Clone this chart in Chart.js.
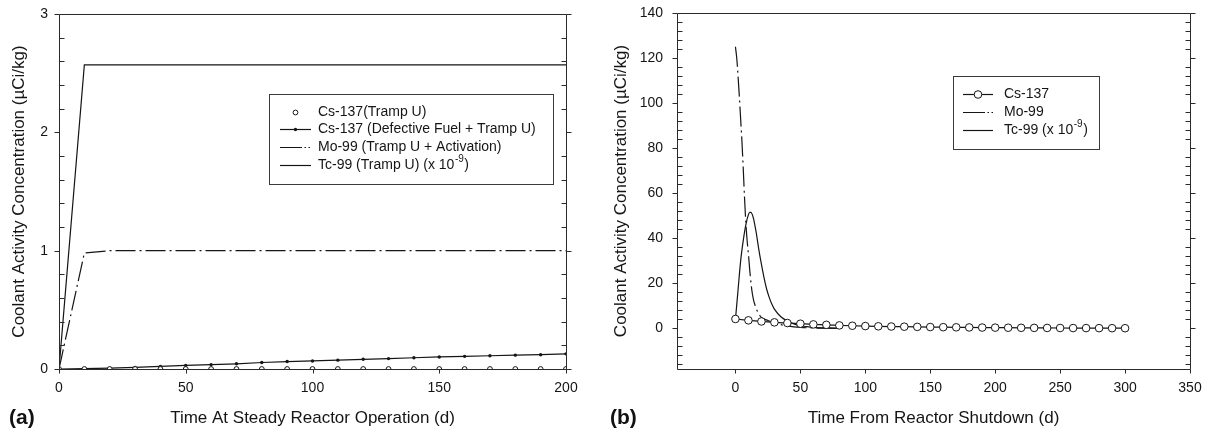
<!DOCTYPE html>
<html>
<head>
<meta charset="utf-8">
<script src="https://cdn.jsdelivr.net/npm/chart.js@4/dist/chart.umd.min.js"></script>
<style>
  html, body { margin: 0; padding: 0; background: #fff; }
  #wrap { position: relative; width: 1212px; height: 432px; overflow: hidden; }
  canvas { position: absolute; top: 0; }
  #chartA { left: 0; }
  #chartB { left: 606px; }
  .panel { position: absolute; font: bold 21px 'Liberation Sans', Arial, sans-serif; line-height: 21px; color: #111; }
</style>
</head>
<body>
<div id="wrap">
  <canvas id="chartA" width="606" height="432"></canvas>
  <canvas id="chartB" width="606" height="432"></canvas>
  <div class="panel" style="left:9px; top:406px;">(a)</div>
  <div class="panel" style="left:610px; top:406px;">(b)</div>
</div>
<script>
const FONT = "'Liberation Sans', Arial, Helvetica, sans-serif";
const INK = '#151515';

// ---- Panel (a): activity during steady reactor operation ----
const daysA = [0, 10, 20, 30, 40, 50, 60, 70, 80, 90, 100, 110, 120, 130, 140, 150, 160, 170, 180, 190, 200];
const cs137TrampA = [0, 0, 0, 0, 0, 0, 0, 0, 0, 0, 0, 0, 0, 0, 0, 0, 0, 0, 0, 0, 0];
const cs137DefectA = [0, 0.003, 0.007, 0.014, 0.022, 0.030, 0.037, 0.044, 0.055, 0.063, 0.068, 0.075, 0.082, 0.088, 0.095, 0.102, 0.107, 0.112, 0.117, 0.121, 0.128];
const mo99A = [0, 0.98, 1, 1, 1, 1, 1, 1, 1, 1, 1, 1, 1, 1, 1, 1, 1, 1, 1, 1, 1];
const tc99A = [0, 2.57, 2.57, 2.57, 2.57, 2.57, 2.57, 2.57, 2.57, 2.57, 2.57, 2.57, 2.57, 2.57, 2.57, 2.57, 2.57, 2.57, 2.57, 2.57, 2.57];
const xTicksA = [0, 50, 100, 150, 200];
const labelsA = ['Cs-137(Tramp U)', 'Cs-137 (Defective Fuel + Tramp U)', 'Mo-99 (Tramp U + Activation)', 'Tc-99 (Tramp U) (x 10^-9)'];

// ---- Panel (b): activity after reactor shutdown ----
const daysCsB = [0, 10, 20, 30, 40, 50, 60, 70, 80, 90, 100, 110, 120, 130, 140, 150, 160, 170, 180, 190, 200, 210, 220, 230, 240, 250, 260, 270, 280, 290, 300];
const cs137B = [4.2, 3.6, 3.1, 2.7, 2.4, 2.1, 1.8, 1.6, 1.35, 1.2, 1.05, 0.95, 0.85, 0.78, 0.7, 0.62, 0.56, 0.5, 0.45, 0.4, 0.36, 0.32, 0.28, 0.25, 0.22, 0.2, 0.17, 0.15, 0.13, 0.11, 0.1];
const daysMoB = [0, 1, 2, 3, 4, 5, 6, 7, 8, 9, 10, 11, 12, 13, 14, 15, 16, 18, 20, 25, 30, 35, 40, 45, 50, 60, 70, 80];
const mo99B = [125, 120, 112, 103, 93, 83, 71, 58, 47, 39, 33, 26, 20, 15.5, 12.5, 10.5, 8.8, 6.5, 4.9, 3.5, 2.5, 1.7, 1.1, 0.7, 0.45, 0.2, 0.1, 0.05];
const daysTcB = [0, 2, 4, 6, 8, 10, 11, 12, 13, 14, 16, 18, 20, 22, 24, 26, 28, 30, 35, 40, 45, 50, 55, 60, 70, 80];
const tc99B = [4, 17, 30, 39, 46, 50.5, 51.5, 51.5, 50.5, 48.5, 42.5, 35, 28.5, 22.5, 17.5, 13.8, 10.8, 8.6, 5.2, 3.3, 2.0, 1.2, 0.8, 0.5, 0.25, 0.15];
const xTicksB = [0, 50, 100, 150, 200, 250, 300, 350];
const labelsB = ['Cs-137', 'Mo-99', 'Tc-99 (x 10^-9)'];

const pts = (xs, ys) => xs.map((x, i) => ({ x, y: ys[i] }));
const MO_DASH = [20, 4, 2, 4];
const MO_KEY_DASH = [22, 2.5, 1.5, 2.5, 1.5, 20];

// Frame around the plot area with outward major ticks and inward minor ticks
const axisFrame = {
  id: 'axisFrame',
  afterDraw(chart, args, o) {
    const { ctx, chartArea: a } = chart;
    const xs = chart.scales.x, ys = chart.scales.y;
    const L = Math.round(a.left) + 0.5, R = Math.round(a.right) + 0.5;
    const T = Math.round(a.top) + 0.5, B = Math.round(a.bottom) + 0.5;
    ctx.save();
    ctx.strokeStyle = o.color;
    ctx.lineWidth = 1;
    ctx.beginPath();
    ctx.rect(L, T, R - L, B - T);
    const isMajor = v => Math.abs(v / o.yMajor - Math.round(v / o.yMajor)) < 1e-6;
    for (let k = Math.ceil(ys.min / o.yMinor - 1e-6); k * o.yMinor <= ys.max + 1e-6; k++) {
      const v = k * o.yMinor;
      const p = Math.round(ys.getPixelForValue(v)) + 0.5;
      if (isMajor(v)) {
        ctx.moveTo(L - o.tick, p); ctx.lineTo(L, p);
        ctx.moveTo(R, p); ctx.lineTo(R + o.tick, p);
      } else {
        ctx.moveTo(L, p); ctx.lineTo(L + o.tick, p);
        ctx.moveTo(R, p); ctx.lineTo(R - o.tick, p);
      }
    }
    xs.ticks.forEach(t => {
      const p = Math.round(xs.getPixelForValue(t.value)) + 0.5;
      ctx.moveTo(p, B); ctx.lineTo(p, B + o.tick - 1);
    });
    ctx.stroke();
    ctx.restore();
  }
};

// Boxed legend inside the plot area; "^" in a label marks a superscript
const boxLegend = {
  id: 'boxLegend',
  afterDraw(chart, args, o) {
    const ctx = chart.ctx;
    const [x1, y1, x2, y2] = o.box;
    ctx.save();
    ctx.fillStyle = '#fff';
    ctx.fillRect(x1, y1, x2 - x1, y2 - y1);
    ctx.strokeStyle = o.frameColor;
    ctx.lineWidth = 1;
    ctx.strokeRect(x1 + 0.5, y1 + 0.5, x2 - x1, y2 - y1);
    chart.data.datasets.forEach((ds, i) => {
      const y = o.rows[i];
      if (ds.showLine !== false) {
        ctx.beginPath();
        ctx.setLineDash(ds.borderDash ? (o.keyDash || ds.borderDash) : []);
        ctx.strokeStyle = ds.borderColor;
        ctx.lineWidth = ds.borderWidth;
        ctx.moveTo(o.sym[0], y + 0.5);
        ctx.lineTo(o.sym[1], y + 0.5);
        ctx.stroke();
        ctx.setLineDash([]);
      }
      if (ds.pointRadius > 0) {
        ctx.beginPath();
        ctx.arc((o.sym[0] + o.sym[1]) / 2, y + 0.5, ds.pointRadius, 0, Math.PI * 2);
        ctx.fillStyle = ds.pointBackgroundColor;
        ctx.fill();
        if (ds.pointBorderWidth > 0) {
          ctx.strokeStyle = ds.pointBorderColor;
          ctx.lineWidth = ds.pointBorderWidth;
          ctx.stroke();
        }
      }
      ctx.fillStyle = o.color;
      ctx.textAlign = 'left';
      ctx.textBaseline = 'middle';
      ctx.font = `${o.size}px ${FONT}`;
      const m = ds.label.match(/^(.*)\^(-?\d+)(.*)$/);
      if (m) {
        let x = o.textX;
        ctx.fillText(m[1], x, y); x += ctx.measureText(m[1]).width;
        ctx.font = `${Math.round(o.size * 0.7)}px ${FONT}`;
        ctx.fillText(m[2], x + 0.5, y - o.size * 0.38); x += ctx.measureText(m[2]).width + 1;
        ctx.font = `${o.size}px ${FONT}`;
        ctx.fillText(m[3], x, y);
      } else {
        ctx.fillText(ds.label, o.textX, y);
      }
    });
    ctx.restore();
  }
};

// Invisible tick marks keep the label gap without adding to the layout padding
const gapGrid = len => ({ display: true, drawOnChartArea: false, drawTicks: true, tickLength: len, color: 'rgba(0,0,0,0)' });

function axisOptions(cfg) {
  return {
    x: {
      type: 'linear', min: cfg.xMin, max: cfg.xMax,
      afterBuildTicks: s => { s.ticks = cfg.xTicks.map(v => ({ value: v })); },
      afterFit: s => { s.height = 63; },
      grid: gapGrid(11),
      border: { display: false },
      ticks: { font: { family: FONT, size: 14 }, color: INK, padding: 0, maxRotation: 0, autoSkip: false, includeBounds: false },
      title: { display: true, text: cfg.xTitle, font: { family: FONT, size: 17 }, color: INK, padding: { top: 0, bottom: 3 } }
    },
    y: {
      type: 'linear', min: cfg.yMin, max: cfg.yMax,
      afterFit: s => { s.width = cfg.yWidth; },
      grid: gapGrid(cfg.yGap),
      border: { display: false },
      ticks: { stepSize: cfg.yStep, font: { family: FONT, size: 14 }, color: INK, padding: 0, includeBounds: false },
      title: { display: true, text: 'Coolant Activity Concentration (\u00B5Ci/kg)', font: { family: FONT, size: 17 }, color: INK, padding: { top: cfg.yTitlePad, bottom: 0 } }
    }
  };
}

const common = {
  responsive: false,
  animation: false,
  devicePixelRatio: 1,
  events: [],
};

new Chart(document.getElementById('chartA'), {
  type: 'line',
  data: {
    datasets: [
      { label: labelsA[0], data: pts(daysA, cs137TrampA), showLine: false, borderColor: INK, borderWidth: 1,
        pointRadius: 2.4, pointBackgroundColor: '#fff', pointBorderColor: INK, pointBorderWidth: 1 },
      { label: labelsA[1], data: pts(daysA, cs137DefectA), borderColor: INK, borderWidth: 1.2,
        pointRadius: 1.7, pointBackgroundColor: INK, pointBorderColor: INK, pointBorderWidth: 0 },
      { label: labelsA[2], data: pts(daysA, mo99A), borderColor: INK, borderWidth: 1.2, borderDash: MO_DASH, pointRadius: 0 },
      { label: labelsA[3], data: pts(daysA, tc99A), borderColor: INK, borderWidth: 1.2, pointRadius: 0 }
    ]
  },
  options: Object.assign({}, common, {
    layout: { padding: { left: 0, top: 14, right: 40, bottom: 0 } },
    scales: axisOptions({ xMin: 0, xMax: 200, xTicks: xTicksA, xTitle: 'Time At Steady Reactor Operation (d)',
      yMin: 0, yMax: 3, yStep: 1, yWidth: 59, yGap: 11, yTitlePad: 9 }),
    plugins: {
      legend: { display: false }, tooltip: { enabled: false },
      axisFrame: { color: '#2a2a2a', tick: 5, yMajor: 1, yMinor: 0.2 },
      boxLegend: { box: [269, 94, 553, 184], rows: [112, 129, 147, 165], sym: [280, 311], textX: 318, keyDash: MO_KEY_DASH,
        size: 14, color: INK, frameColor: '#3a3a3a' }
    }
  }),
  plugins: [axisFrame, boxLegend]
});

new Chart(document.getElementById('chartB'), {
  type: 'line',
  data: {
    datasets: [
      { label: labelsB[0], data: pts(daysCsB, cs137B), borderColor: INK, borderWidth: 1.2,
        pointRadius: 3.8, pointBackgroundColor: '#fff', pointBorderColor: INK, pointBorderWidth: 1 },
      { label: labelsB[1], data: pts(daysMoB, mo99B), borderColor: INK, borderWidth: 1.2, borderDash: MO_DASH, pointRadius: 0,
        cubicInterpolationMode: 'monotone' },
      { label: labelsB[2], data: pts(daysTcB, tc99B), borderColor: INK, borderWidth: 1.2, pointRadius: 0,
        cubicInterpolationMode: 'monotone' }
    ]
  },
  options: Object.assign({}, common, {
    layout: { padding: { left: 0, top: 13, right: 22, bottom: 0 } },
    scales: axisOptions({ xMin: -45, xMax: 350, xTicks: xTicksB, xTitle: 'Time From Reactor Shutdown (d)',
      yMin: -18, yMax: 140, yStep: 20, yWidth: 71, yGap: 14, yTitlePad: 5 }),
    plugins: {
      legend: { display: false }, tooltip: { enabled: false },
      axisFrame: { color: '#2a2a2a', tick: 5, yMajor: 20, yMinor: 4 },
      boxLegend: { box: [347, 76, 493, 149], rows: [94, 112, 130], sym: [357, 387], textX: 398, keyDash: MO_KEY_DASH,
        size: 14, color: INK, frameColor: '#3a3a3a' }
    }
  }),
  plugins: [axisFrame, boxLegend]
});
</script>
</body>
</html>
